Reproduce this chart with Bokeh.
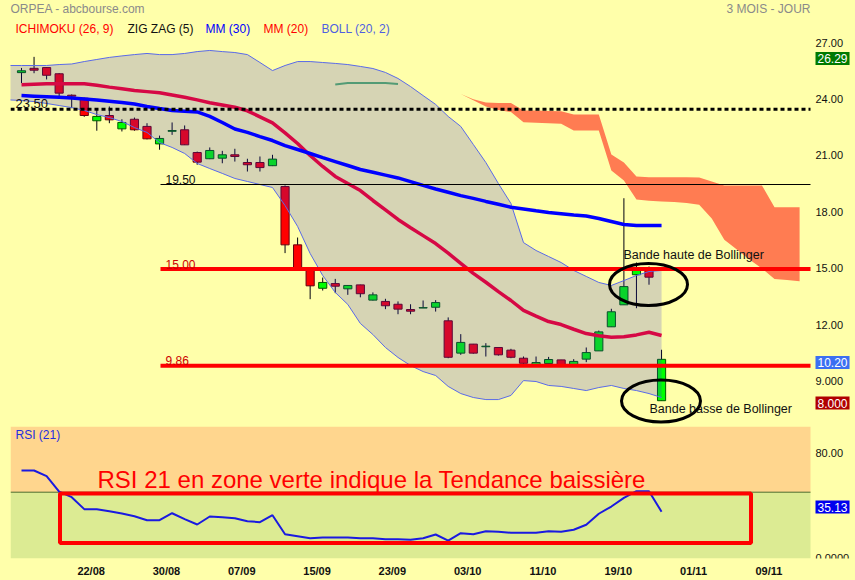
import numpy as np
from bokeh.plotting import figure
from bokeh.layouts import column
from bokeh.models import (Range1d, FixedTicker, Label, BoxAnnotation,
                          ColumnDataSource, GlobalInlineStyleSheet)
from bokeh.core.properties import value
from bokeh.embed import file_html
from bokeh.resources import INLINE

FONT = "Liberation Sans"
BG = "#FFFFAA"

# ---------------- data ----------------
x_tick_days = [6, 12, 18, 24, 30, 36, 42, 48, 54, 60]
x_tick_labels = ["22/08", "30/08", "07/09", "15/09", "23/09", "03/10", "11/10", "19/10", "01/11", "09/11"]
y_tick_values = [9, 12, 15, 18, 21, 24, 27]
y_tick_labels = ["9.000", "12.00", "15.00", "18.00", "21.00", "24.00", "27.00"]
rsi_tick_values = [0, 80]
rsi_tick_labels = ["0.0000", "80.00"]

opens = [25.45, 25.68, 25.72, 25.39, 24.25, 24.09, 22.89, 23.17, 22.46, 22.97,
         22.59, 21.66, 22.33, 22.41, 21.20, 20.87, 20.90, 21.08, 20.67, 20.67,
         20.50, 19.39, 16.29, 15.00, 13.98, 14.23, 13.95, 14.16, 13.35, 13.28,
         13.13, 12.85, 12.93, 12.97, 12.25, 10.53, 11.01, 10.87, 10.83, 10.69,
         10.26, 9.85, 9.98, 10.17, 9.82, 10.21, 10.65, 11.93, 13.10, 14.70,
         14.96, 8.00]
highs = [25.70, 26.29, 25.75, 25.42, 24.29, 24.12, 23.56, 23.65, 22.97, 23.06,
         22.76, 22.10, 22.80, 22.64, 21.25, 21.47, 21.29, 21.40, 20.87, 20.99,
         21.08, 19.45, 16.68, 15.02, 14.55, 14.48, 14.15, 14.17, 13.76, 13.42,
         13.28, 13.13, 13.33, 13.35, 12.43, 11.54, 11.02, 11.06, 10.85, 10.76,
         10.35, 10.35, 10.33, 10.17, 10.21, 10.83, 11.73, 12.89, 18.77, 15.35,
         15.14, 10.71]
lows = [24.90, 25.42, 25.09, 24.09, 23.56, 23.10, 22.36, 22.76, 22.32, 22.36,
        21.90, 21.35, 22.14, 21.60, 20.55, 20.85, 20.63, 20.72, 20.19, 20.19,
        20.48, 15.85, 15.00, 13.40, 13.86, 13.72, 13.63, 13.50, 13.33, 12.87,
        12.60, 12.60, 12.93, 12.74, 10.26, 10.44, 10.50, 10.35, 10.40, 10.26,
        9.87, 9.80, 9.87, 9.80, 9.80, 10.05, 10.65, 11.93, 13.10, 12.92,
        14.17, 8.00]
closes = [25.55, 25.58, 25.31, 24.36, 24.20, 23.17, 23.12, 22.94, 22.80, 22.41,
          21.93, 21.95, 22.37, 21.61, 20.69, 21.31, 21.08, 20.99, 20.55, 20.40,
          20.85, 16.29, 15.05, 14.11, 14.29, 14.09, 14.13, 13.69, 13.63, 13.05,
          12.87, 12.76, 12.95, 13.22, 10.31, 11.10, 10.53, 10.90, 10.44, 10.31,
          9.99, 10.03, 10.19, 9.82, 10.09, 10.56, 11.66, 12.73, 14.07, 14.97,
          14.57, 10.20]

mm30 = [24.23, 24.20, 24.17, 24.14, 24.10, 24.05, 24.00, 23.93, 23.86, 23.78,
        23.65, 23.54, 23.44, 23.40, 23.36, 23.12, 22.80, 22.45, 22.27, 22.05,
        21.84, 21.57, 21.36, 21.15, 20.93, 20.72, 20.51, 20.30, 20.15, 20.00,
        19.85, 19.65, 19.45, 19.26, 19.09, 18.91, 18.76, 18.60, 18.45, 18.29,
        18.20, 18.10, 18.01, 17.95, 17.88, 17.82, 17.69, 17.53, 17.37, 17.32,
        17.32, 17.32]
mm20 = [24.80, 24.83, 24.86, 24.86, 24.86, 24.86, 24.78, 24.68, 24.59, 24.50,
        24.44, 24.38, 24.26, 24.14, 24.00, 23.85, 23.73, 23.61, 23.42, 23.10,
        22.78, 22.25, 21.68, 21.04, 20.46, 19.93, 19.55, 19.18, 18.65, 18.15,
        17.64, 17.20, 16.78, 16.36, 15.85, 15.30, 14.77, 14.30, 13.80, 13.33,
        12.80, 12.50, 12.21, 12.05, 11.80, 11.57, 11.45, 11.38, 11.40, 11.50,
        11.64, 11.47]

# Bollinger (20, 2): first value is the session before the window
boll_upper = [25.83, 25.83, 25.83, 25.83, 25.88, 25.91, 26.04, 26.15, 26.26, 26.34,
              26.41, 26.47, 26.41, 26.41, 26.47, 26.57, 26.63, 26.57, 26.52, 26.41,
              25.99, 25.56, 25.83, 26.04, 26.04, 25.99, 25.94, 25.88, 25.78, 25.67,
              25.46, 25.14, 24.71, 24.23, 23.76, 23.12, 22.59, 21.63, 20.67, 19.55,
              18.49, 16.41, 15.99, 15.67, 15.35, 14.93, 14.61, 14.29, 14.13, 14.39,
              14.66, 14.87, 14.93]
boll_lower = [24.00, 23.97, 23.91, 23.81, 23.70, 23.59, 23.44, 23.22, 23.06, 22.85,
              22.53, 22.27, 21.73, 21.47, 21.15, 20.62, 20.35, 20.09, 19.82, 19.66,
              19.50, 19.34, 18.38, 17.27, 15.83, 14.66, 13.76, 13.12, 12.11, 11.52,
              10.83, 10.30, 9.87, 9.55, 9.34, 8.76, 8.38, 8.17, 8.06, 8.06,
              8.28, 9.07, 9.02, 8.81, 8.76, 8.65, 8.54, 8.70, 8.81, 8.65,
              8.54, 8.38, 8.17]

# Ichimoku cloud, from session 35 to 62
ichi_start = 35
ichi_upper = [24.32, 24.03, 23.86, 23.84, 23.83, 23.44, 23.43, 23.41, 23.40, 23.22,
              23.22, 23.22, 21.10, 20.67, 19.93, 19.89, 19.89, 19.89, 19.89, 19.87,
              19.66, 19.45, 19.45, 19.45, 19.45, 18.29, 18.29, 18.29]
ichi_lower = [24.32, 23.98, 23.65, 23.46, 23.35, 22.81, 22.78, 22.76, 22.73, 22.37,
              22.37, 22.37, 20.24, 19.71, 18.70, 18.64, 18.60, 18.57, 18.52, 18.42,
              17.69, 16.56, 16.04, 15.51, 15.03, 14.48, 14.42, 14.36]
ichi_green_start = 25
ichi_green = [24.82, 24.90, 24.90, 24.90, 24.90, 24.85]

rsi21 = [66.5, 66.5, 62.2, 50.5, 46.2, 37.1, 37.1, 35.5, 33.8, 31.7,
         28.7, 28.7, 34.0, 29.5, 25.4, 31.5, 31.0, 30.2, 27.9, 27.2,
         32.5, 18.0, 16.5, 15.0, 15.5, 15.5, 15.5, 15.0, 15.0, 14.2,
         14.2, 13.8, 15.0, 17.8, 13.2, 18.8, 18.0, 20.3, 19.9, 19.1,
         19.1, 19.1, 20.3, 19.9, 21.4, 25.2, 33.6, 39.1, 45.7, 50.8,
         50.8, 35.13]
rsi_mid = 50

level_dotted = 23.50
levels_thin = [19.50]
levels_red = [15.00, 9.86]
level_labels = ["23.50", "19.50", "15.00", "9.86"]

last_high, last_close, last_low, last_rsi = "26.29", "10.20", "8.000", "35.13"

# ---------------- helpers (pixel -> data, for annotation placement) ----------------
def X(px):
    return (px - 21) / 12.55

def P(py):
    return 27 - (py - 43) / 18.8

def R(py):
    return (557.4 - py) / 1.314

x_range = Range1d(X(10), X(855))

# ---------------- main price panel ----------------
p1 = figure(width=855, height=426, x_range=x_range, y_range=Range1d(P(426), P(0)),
            output_backend="svg", toolbar_location=None,
            x_axis_location=None, y_axis_location=None,
            min_border=0, min_border_left=10, min_border_right=0,
            min_border_top=0, min_border_bottom=0,
            background_fill_color=BG, border_fill_color=BG, outline_line_color=None)
p1.grid.visible = False

# Ichimoku cloud
cx = np.arange(ichi_start, ichi_start + len(ichi_upper))
p1.varea(x=cx, y1=ichi_lower, y2=ichi_upper, fill_color="#FF7C52")

# candles
idx = np.arange(len(opens))
o = np.array(opens)
c = np.array(closes)
up = c >= o
src = ColumnDataSource(dict(
    x=idx, top=np.maximum(o, c), bottom=np.minimum(o, c),
    hi=highs, lo=lows,
    fill=np.where(up, "#00FF00", "#FF0000"),
    line=np.where(up, "#005A00", "#660010")))
p1.segment(x0="x", y0="lo", x1="x", y1="hi", source=src, line_color="#000010", line_width=1)
p1.vbar(x="x", width=0.65, top="top", bottom="bottom", fill_color="fill",
        line_color="line", line_width=1, source=src)

# MM 20
p1.line(idx, mm20, line_color="#FF0020", line_width=3.5)
# short green ichimoku segment
gx = np.arange(ichi_green_start, ichi_green_start + len(ichi_green))
p1.line(gx, ichi_green, line_color="#5CB85C", line_width=2)

# Bollinger band overlay
bx = np.arange(-1, len(boll_upper) - 1)
p1.varea(x=bx, y1=boll_lower, y2=boll_upper, fill_color="#3228DC", fill_alpha=0.2)
p1.line(bx, boll_upper, line_color="#5A6AE8", line_width=1)
p1.line(bx, boll_lower, line_color="#5A6AE8", line_width=1)

# MM 30
p1.line(idx, mm30, line_color="#0000FF", line_width=3.5)

# level lines
p1.segment(x0=[X(10)], y0=[level_dotted], x1=[X(810)], y1=[level_dotted],
           line_color="black", line_width=3, line_dash="4 3")
for lv in levels_thin:
    p1.segment(x0=[X(160)], y0=[lv], x1=[X(810)], y1=[lv], line_color="black", line_width=1)
for lv in levels_red:
    p1.segment(x0=[X(160)], y0=[lv], x1=[X(810)], y1=[lv], line_color="#FF0000", line_width=4)

def lab(fig, x, y, text, color="black", size="12px", align="left", baseline="middle", **kw):
    l = Label(x=x, y=y, text=text, text_color=color, text_font=FONT, text_font_size=size,
              text_align=align, text_baseline=baseline, **kw)
    fig.add_layout(l)
    return l

lab(p1, X(15), P(103), level_labels[0], "#111111", "13px")
lab(p1, X(165), P(179), level_labels[1], "#111111", "12px")
lab(p1, X(165), P(264), level_labels[2], "#CC0000", "12px")
lab(p1, X(165), P(360), level_labels[3], "#CC0000", "12px")

# price scale labels (right side)
p1.text(x=[X(815)] * len(y_tick_values), y=[v + 0.05 for v in y_tick_values], text=y_tick_labels,
        text_font=value(FONT), text_font_size="11px", text_color="#111111",
        text_align="left", text_baseline="middle")

# ellipses
p1.ellipse(x=[X(648)], y=[P(284)], width=78, height=42, width_units="screen",
           height_units="screen", fill_color=None, line_color="black", line_width=3)
p1.ellipse(x=[X(660.5)], y=[P(400.5)], width=79, height=42, width_units="screen",
           height_units="screen", fill_color=None, line_color="black", line_width=3)

lab(p1, X(623), P(254), "Bande haute de Bollinger", "#111111", "12.5px")
lab(p1, X(649), P(408), "Bande basse de Bollinger", "#111111", "12.5px")

# title and legend
lab(p1, X(10), P(8), "ORPEA - abcbourse.com", "#8A8A8A", "12px")
lab(p1, X(810), P(8), "3 MOIS - JOUR", "#8A8A8A", "12px", align="right")
lab(p1, X(15), P(28), "ICHIMOKU (26, 9)", "#FF0000", "12px")
lab(p1, X(127), P(28), "ZIG ZAG (5)", "#111111", "12px")
lab(p1, X(205), P(28), "MM (30)", "#0000FF", "12px")
lab(p1, X(263), P(28), "MM (20)", "#FF0000", "12px")
lab(p1, X(321), P(28), "BOLL (20, 2)", "#4F5FE0", "12px")

# value boxes
lab(p1, X(815), P(58), last_high, "white", "12px", background_fill_color="#007A00", padding=2)
lab(p1, X(815), P(362), last_close, "white", "12px", background_fill_color="#3C6FF2", padding=2)
lab(p1, X(815), P(402.5), last_low, "white", "12px", background_fill_color="#B00000", padding=2)

# ---------------- RSI panel ----------------
p2 = figure(width=855, height=154, x_range=x_range, y_range=Range1d(R(558), R(426)),
            output_backend="svg", toolbar_location=None, y_axis_location=None,
            min_border=0, min_border_left=10, min_border_right=0,
            min_border_top=0, min_border_bottom=22,
            background_fill_color=BG, border_fill_color=BG, outline_line_color=None)
p2.grid.visible = False
xa = p2.xaxis[0]
xt = [d - 0.45 for d in x_tick_days]
xa.ticker = FixedTicker(ticks=xt)
xa.major_label_overrides = dict(zip(xt, x_tick_labels))
xa.axis_line_color = None
xa.major_tick_line_color = None
xa.minor_tick_line_color = None
xa.major_tick_out = 0
xa.major_tick_in = 0
xa.major_label_standoff = 6
xa.major_label_text_font = FONT
xa.major_label_text_font_size = "11px"
xa.major_label_text_font_style = "bold"
xa.major_label_text_color = "#111111"

p2.add_layout(BoxAnnotation(bottom=rsi_mid, right=X(810), fill_color="#FFD68E", fill_alpha=1,
                            line_color=None, level="underlay"))
p2.add_layout(BoxAnnotation(top=rsi_mid, right=X(810), fill_color="#DCEB93", fill_alpha=1,
                            line_color=None, level="underlay"))
p2.segment(x0=[X(10)], y0=[rsi_mid], x1=[X(810)], y1=[rsi_mid], line_color="#4C6B2E", line_width=1)

p2.line(idx, rsi21, line_color="#1A1AE0", line_width=2)

p2.add_layout(BoxAnnotation(left=X(59.5), right=X(750.5), bottom=R(542.5), top=R(493),
                            fill_color=None, fill_alpha=0, line_color="#FF0000", line_width=4,
                            line_alpha=1))

# RSI scale labels
p2.text(x=[X(815)] * len(rsi_tick_values), y=rsi_tick_values, text=rsi_tick_labels,
        text_font=value(FONT), text_font_size="11px", text_color="#111111",
        text_align="left", text_baseline="middle")

lab(p2, X(15), R(434), "RSI (21)", "#1F2FE0", "12px")
lab(p2, X(97), R(479), "RSI 21 en zone verte indique la Tendance baissière", "#FF0000",
    "24px", baseline="middle")
lab(p2, X(815), R(506.5), last_rsi, "white", "12px", background_fill_color="#0000EE", padding=2)

layout = column(p1, p2, stylesheets=[GlobalInlineStyleSheet(css="html, body { background-color: #FFFFAA; }")])

open("out.html", "w").write(file_html(layout, INLINE))
